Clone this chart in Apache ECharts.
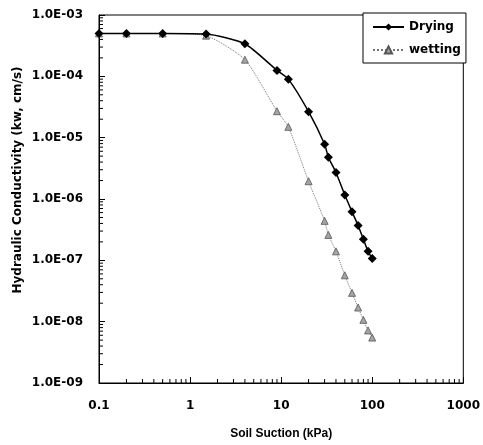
<!DOCTYPE html>
<html>
<head>
<meta charset="utf-8">
<script src="https://cdn.jsdelivr.net/npm/echarts@6/dist/echarts.min.js"></script>
<style>
  html, body { margin: 0; padding: 0; background: #fff; }
  #chart { width: 483px; height: 445px; }
</style>
</head>
<body>
<div id="chart"></div>
<script>
// soil suction (kPa)
const suction = [0.1, 0.2, 0.5, 1.5, 4, 9, 12, 20, 30, 33, 40, 50, 60, 70, 80, 90, 100]
// hydraulic conductivity (cm/s)
const drying = [5.0e-4, 5.0e-4, 5.0e-4, 4.9e-4, 3.4e-4, 1.25e-4, 9.0e-5, 2.65e-5, 7.8e-6, 4.8e-6,
  2.7e-6, 1.16e-6, 6.2e-7, 3.7e-7, 2.2e-7, 1.4e-7, 1.07e-7]
const wetting = [5.0e-4, 5.0e-4, 5.0e-4, 4.6e-4, 1.87e-4, 2.7e-5, 1.5e-5, 1.95e-6, 4.4e-7, 2.6e-7,
  1.4e-7, 5.7e-8, 2.95e-8, 1.7e-8, 1.07e-8, 7.2e-9, 5.5e-9]

const xTicks = [0.1, 1, 10, 100, 1000]
const xTickLabels = ['0.1', '1', '10', '100', '1000']
const yTicks = [1e-9, 1e-8, 1e-7, 1e-6, 1e-5, 1e-4, 1e-3]
const yTickLabels = ['1.0E-09', '1.0E-08', '1.0E-07', '1.0E-06', '1.0E-05', '1.0E-04', '1.0E-03']
const minorSteps = [2, 3, 4, 5, 6, 7, 8, 9]

const pick = (ticks, labels) => v => {
  const i = ticks.findIndex(t => Math.abs(Math.log10(t) - Math.log10(v)) < 1e-6)
  return i < 0 ? '' : labels[i]
}

// minor (2..9) tick marks for each decade, drawn on the axes
const minorTicks = []
xTicks.slice(0, -1).forEach(d => minorSteps.forEach(m => minorTicks.push([d * m, yTicks[0], 0])))
yTicks.slice(0, -1).forEach(d => minorSteps.forEach(m => minorTicks.push([xTicks[0], d * m, 1])))

const font = 'DejaVu Sans'
const chart = echarts.init(document.getElementById('chart'))
chart.setOption({
  animation: false,
  backgroundColor: '#fff',
  grid: { left: 99, right: 13, top: 15, bottom: 58, show: true, borderColor: '#000', borderWidth: 1 },
  legend: {
    data: ['Drying', 'wetting'],
    orient: 'vertical',
    left: 363, top: 13,
    padding: [8, 5, 7, 9],
    itemWidth: 31, itemHeight: 9, itemGap: 11,
    backgroundColor: '#fff', borderColor: '#000', borderWidth: 1, borderRadius: 0,
    textStyle: { fontFamily: font, fontWeight: 'bold', fontSize: 12, color: '#000' }
  },
  xAxis: {
    type: 'log', logBase: 10, min: 0.1, max: 1000,
    name: 'Soil Suction (kPa)', nameLocation: 'middle', nameGap: 45,
    nameTextStyle: { fontFamily: 'Liberation Sans', fontWeight: 'bold', fontSize: 12, color: '#000' },
    axisLine: { lineStyle: { color: '#000', width: 1 } },
    axisTick: { inside: true, length: 6, lineStyle: { color: '#000' } },
    axisLabel: { margin: 17, fontFamily: font, fontWeight: 'bold', fontSize: 12, color: '#000',
      formatter: pick(xTicks, xTickLabels) },
    splitLine: { show: false }
  },
  yAxis: {
    type: 'log', logBase: 10, min: 1e-9, max: 1e-3,
    axisLine: { lineStyle: { color: '#000', width: 1 } },
    axisTick: { inside: true, length: 6, lineStyle: { color: '#000' } },
    axisLabel: { margin: 16, fontFamily: font, fontWeight: 'bold', fontSize: 12, color: '#000',
      formatter: pick(yTicks, yTickLabels) },
    splitLine: { show: false }
  },
  graphic: [{
    type: 'text', x: 18, y: 180, rotation: Math.PI / 2,
    style: { text: 'Hydraulic Conductivity (kw, cm/s)', fontFamily: font, fontWeight: 'bold', fontSize: 12,
      fill: '#000', textAlign: 'center', textVerticalAlign: 'middle' }
  }],
  series: [
    {
      name: 'Drying', type: 'line', smooth: 0.2,
      data: suction.map((x, i) => [x, drying[i]]),
      symbol: 'diamond', symbolSize: 9, z: 3,
      itemStyle: { color: '#000' },
      lineStyle: { color: '#000', width: 1.5 }
    },
    {
      name: 'wetting', type: 'line', smooth: 0.2,
      data: suction.map((x, i) => [x, wetting[i]]),
      symbol: 'triangle', symbolSize: 7, z: 2,
      itemStyle: { color: '#a4a4a4', borderColor: '#555', borderWidth: 0.8 },
      lineStyle: { color: '#777', width: 1, type: 'dotted' }
    },
    {
      type: 'custom', silent: true, clip: false,
      dimensions: ['x', 'y', 'axis'], encode: { x: 0, y: 1 },
      data: minorTicks,
      renderItem: (params, api) => {
        const p = api.coord([api.value(0), api.value(1)])
        const shape = api.value(2) === 0
          ? { x1: p[0], y1: p[1], x2: p[0], y2: p[1] - 4 }
          : { x1: p[0], y1: p[1], x2: p[0] + 4, y2: p[1] }
        return { type: 'line', shape, style: { stroke: '#000', lineWidth: 1 } }
      }
    }
  ]
})
</script>
</body>
</html>
